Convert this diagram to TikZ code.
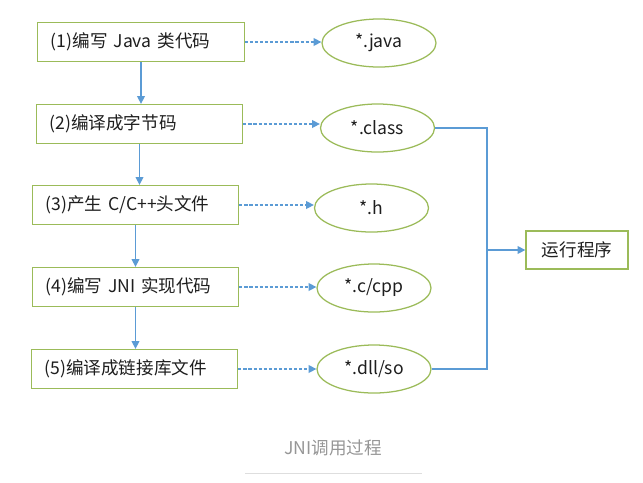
\documentclass[tikz,border=0pt]{standalone}
\usepackage{fontspec}
\newfontfamily\cjk{Noto Sans CJK SC}
\usetikzlibrary{arrows.meta,shapes.geometric}

\definecolor{boxgreen}{RGB}{155,187,89}
\definecolor{flowblue}{RGB}{91,155,213}
\definecolor{txtgray}{RGB}{30,30,30}
\definecolor{capgray}{RGB}{150,150,150}
\definecolor{rulegray}{RGB}{222,222,222}

\tikzset{
  stepbox/.style={draw=boxgreen, line width=0.9pt, rectangle, minimum height=0.975cm,
    text width=4.5cm, inner xsep=0.33cm, align=left, text=txtgray},
  filenode/.style={draw=boxgreen, line width=0.9pt, ellipse, minimum height=1.2cm,
    minimum width=2.85cm, inner sep=0pt, text=txtgray},
  runbox/.style={draw=boxgreen, line width=0.9pt, rectangle, minimum height=0.95cm,
    minimum width=2.55cm, text=txtgray},
  flow/.style={->, draw=flowblue, line width=0.9pt},
  produce/.style={->, draw=flowblue, line width=1pt, dash pattern=on 2.2pt off 1.4pt},
  collect/.style={draw=flowblue, line width=0.8pt}
}

\begin{document}
\begin{tikzpicture}[x=0.025cm, y=-0.025cm, >={Triangle[length=5.5pt,width=5.5pt]},
    font=\cjk\fontsize{12.5}{15}\selectfont]
    \useasboundingbox (0,0) rectangle (643,482);

    % build steps
    \node[stepbox] (s1) at (141,42) {(1)编写 Java 类代码};
    \node[stepbox] (s2) at (139.5,124) {(2)编译成字节码};
    \node[stepbox] (s3) at (135.5,205) {(3)产生 C/C++头文件};
    \node[stepbox] (s4) at (135.5,287) {(4)编写 JNI 实现代码};
    \node[stepbox] (s5) at (134.5,369) {(5)编译成链接库文件};

    % generated files
    \node[filenode] (f1) at (379,43) {*.java};
    \node[filenode] (f2) at (377.5,128) {*.class};
    \node[filenode] (f3) at (371.5,208) {*.h};
    \node[filenode] (f4) at (374,288) {*.c/cpp};
    \node[filenode] (f5) at (374,369) {*.dll/so};

    \node[runbox] (run) at (577,250) {运行程序};

    \foreach \i/\j in {1/2,2/3,3/4,4/5}
        \draw[flow] (s\i.south) -- (s\i.south |- s\j.north);

    \foreach \i in {1,...,5}
        \draw[produce] (s\i.east) -- (s\i.east -| f\i.west);

    \coordinate (mid) at (487,250);
    \draw[collect] (f2.east) -| (mid) |- (f5.east);
    \draw[flow] (mid) -- (run.west);

    % caption
    \node[text=capgray] (cap) at (333,448) {JNI调用过程};
    \draw[rulegray, line width=0.6pt] (245,473) -- (422,473);
\end{tikzpicture}
\end{document}
